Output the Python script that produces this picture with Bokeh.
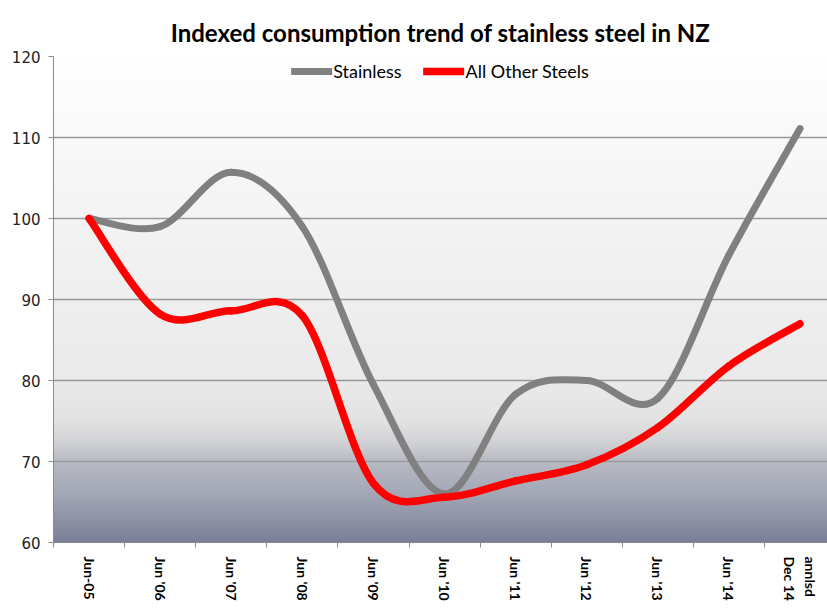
import numpy as np
from bokeh.plotting import figure
from bokeh.models import (Range1d, FixedTicker, Legend, LegendItem)
from bokeh.embed import file_html
from bokeh.resources import INLINE

# ---- data ----
categories = ["Jun-05", "Jun '06", "Jun '07", "Jun '08", "Jun '09", "Jun '10",
              "Jun '11", "Jun '12", "Jun '13", "Jun '14", "Dec 14\nannlsd"]
stainless = [100, 99, 105.7, 99, 79.5, 66, 78.3, 80, 77.8, 95.5, 111.1]
other_steels = [100, 88.2, 88.6, 88, 67.3, 65.6, 67.6, 69.6, 74.2, 81.8, 87.0]
y_ticks = [60, 70, 80, 90, 100, 110, 120]

FIG_W, FIG_H = 827, 608
LEFT, TOP = 53, 56
FRAME_BOTTOM = 542
CAT_PX = 71.1
frame_w = FIG_W - LEFT
x_end = frame_w / CAT_PX

p = figure(width=FIG_W, height=FIG_H, output_backend="svg", toolbar_location=None,
           x_range=Range1d(0, x_end), y_range=Range1d(60, 120),
           min_border_left=LEFT, min_border_right=0, min_border_top=TOP,
           min_border_bottom=FIG_H - FRAME_BOTTOM)

p.title.text = "Indexed consumption trend of stainless steel in NZ"
p.title.align = "center"
p.title.text_font = "Lato"
p.title.text_font_size = "24px"
p.title.text_font_style = "bold"
p.title.text_color = "#000000"
p.title.standoff = 20

# background gradient (styling)
stops_v = [60, 63, 66, 69, 70.5, 72, 75, 80, 90, 100, 110, 120]
stops_c = [(0x7a, 0x80, 0x97), (0x8f, 0x94, 0xa7), (0xa4, 0xa8, 0xb6), (0xb3, 0xb6, 0xc1),
           (0xbd, 0xbf, 0xc7), (0xcf, 0xd0, 0xd4), (0xe3, 0xe3, 0xe3), (0xea, 0xea, 0xea),
           (0xef, 0xef, 0xef), (0xf4, 0xf4, 0xf4), (0xf9, 0xf9, 0xf9), (0xff, 0xff, 0xff)]
N = 300
vals = np.linspace(60, 120, N)
img = np.empty((N, 1), dtype=np.uint32)
view = img.view(dtype=np.uint8).reshape((N, 1, 4))
for ch in range(3):
    view[:, 0, ch] = np.interp(vals, stops_v, [c[ch] for c in stops_c]).astype(np.uint8)
view[:, 0, 3] = 255
bg = p.image_rgba(image=[img], x=0, y=60, dw=x_end, dh=60)
bg.level = "image"

# axes / grid
p.xgrid.grid_line_color = None
p.ygrid.grid_line_color = "#9a9a9a"
p.ygrid.grid_line_width = 1.3
p.ygrid.ticker = FixedTicker(ticks=y_ticks)
p.outline_line_color = None

p.yaxis.ticker = FixedTicker(ticks=y_ticks)
p.yaxis.axis_line_color = "#8c8c8c"
p.yaxis.major_tick_line_color = "#8c8c8c"
p.yaxis.major_tick_out = 5
p.yaxis.major_tick_in = 0
p.yaxis.minor_tick_line_color = None
p.yaxis.major_label_text_font = "DejaVu Sans"
p.yaxis.major_label_text_font_size = "15px"
p.yaxis.major_label_text_color = "#222222"
p.yaxis.major_label_standoff = 8

centers = [i + 0.5 for i in range(len(categories))]
bounds = [float(i) for i in range(len(categories) + 1)]


def shown(label):
    # vertical multi-line labels: list lines so the first appears on the left
    return "\n".join(reversed(label.split("\n")))


p.xaxis.ticker = FixedTicker(ticks=centers, minor_ticks=bounds)
p.xaxis.major_label_overrides = {c: shown(lab) for c, lab in zip(centers, categories)}
p.xaxis.major_tick_line_color = None
p.xaxis.minor_tick_line_color = "#8c8c8c"
p.xaxis.minor_tick_out = 5
p.xaxis.minor_tick_in = 0
p.xaxis.axis_line_color = "#8c8c8c"
p.xaxis.major_label_orientation = "vertical"
p.xaxis.major_label_text_font = "Lato"
p.xaxis.major_label_text_font_style = "bold"
p.xaxis.major_label_text_font_size = "14px"
p.xaxis.major_label_text_color = "#000000"
p.xaxis.major_label_standoff = 8


def smooth_segments(xs, ys):
    n = len(xs)
    pts = list(zip(xs, ys))
    x0, y0, x1, y1, cx0, cy0, cx1, cy1 = [], [], [], [], [], [], [], []
    for i in range(n - 1):
        pm = pts[i - 1] if i > 0 else pts[i]
        pa = pts[i]
        pb = pts[i + 1]
        pn = pts[i + 2] if i + 2 < n else pts[i + 1]
        x0.append(pa[0]); y0.append(pa[1]); x1.append(pb[0]); y1.append(pb[1])
        cx0.append(pa[0] + (pb[0] - pm[0]) / 6); cy0.append(pa[1] + (pb[1] - pm[1]) / 6)
        cx1.append(pb[0] - (pn[0] - pa[0]) / 6); cy1.append(pb[1] - (pn[1] - pa[1]) / 6)
    return dict(x0=x0, y0=y0, x1=x1, y1=y1, cx0=cx0, cy0=cy0, cx1=cx1, cy1=cy1)


s1 = smooth_segments(centers, stainless)
r1 = p.bezier(line_color="#808080", line_width=7, line_cap="round", **s1)
s2 = smooth_segments(centers, other_steels)
r2 = p.bezier(line_color="#ff0000", line_width=7.5, line_cap="round", **s2)

legend = Legend(items=[LegendItem(label="Stainless", renderers=[r1]),
                       LegendItem(label="All Other Steels", renderers=[r2])],
                location="top_center", orientation="horizontal",
                background_fill_alpha=0, border_line_color=None,
                glyph_width=41, glyph_height=18, label_standoff=1, spacing=22,
                margin=4, padding=2,
                label_text_font="Lato", label_text_font_size="18px",
                label_text_color="#000000")
p.add_layout(legend)

open("out.html", "w").write(file_html(p, INLINE))
